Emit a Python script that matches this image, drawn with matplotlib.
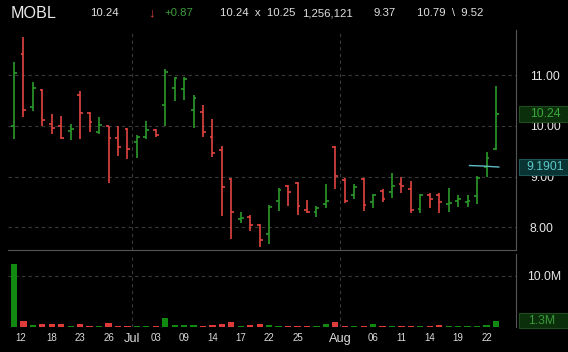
import matplotlib
matplotlib.use("Agg")
import matplotlib.pyplot as plt
import matplotlib.transforms as mtransforms
from matplotlib.patches import Rectangle
import numpy as np

plt.rcParams['font.family'] = ['Liberation Sans', 'DejaVu Sans']

# daily OHLC, one bar per trading day
opens = [10.00, 11.41, 10.37, 10.71, 10.04, 9.99, 9.90, 10.62, 10.25, 9.89,
         9.99, 9.77, 9.94, 9.69, 9.79, 9.92, 10.41, 10.74, 10.72, 10.32,
         10.28, 9.78, 9.53, 8.95, 8.17, 8.21, 8.05, 7.87, 8.53, 8.82,
         8.87, 8.34, 8.31, 8.47, 9.58, 8.93, 8.64, 8.95, 8.51, 8.72,
         8.70, 8.86, 8.76, 8.36, 8.63, 8.64, 8.46, 8.52, 8.51, 8.62,
         9.20, 9.54]
highs = [11.26, 11.76, 10.87, 10.73, 10.24, 10.20, 10.03, 10.69, 10.28, 10.18,
         10.00, 9.99, 9.97, 9.82, 10.10, 9.95, 11.12, 10.97, 10.96, 10.61,
         10.41, 10.14, 9.61, 8.98, 8.30, 8.24, 8.07, 8.44, 8.78, 8.84,
         8.89, 8.54, 8.43, 8.86, 9.61, 8.97, 8.86, 8.98, 8.66, 8.75,
         9.08, 9.00, 8.92, 8.65, 8.67, 8.67, 8.77, 8.64, 8.64, 9.02,
         9.48, 10.79]
lows = [9.75, 10.18, 10.30, 9.99, 9.84, 9.74, 9.72, 9.74, 9.89, 9.84,
        8.88, 9.41, 9.35, 9.37, 9.74, 9.78, 9.99, 10.50, 10.51, 9.97,
        9.78, 9.39, 8.23, 7.78, 8.09, 7.93, 7.62, 7.67, 8.33, 8.43,
        8.24, 8.28, 8.20, 8.38, 8.75, 8.48, 8.55, 8.33, 8.39, 8.51,
        8.57, 8.68, 8.29, 8.29, 8.39, 8.29, 8.31, 8.40, 8.40, 8.46,
        8.99, 9.52]
closes = [11.04, 10.32, 10.74, 10.12, 9.96, 9.76, 9.95, 10.26, 10.07, 10.01,
          9.76, 9.58, 9.55, 9.79, 9.92, 9.82, 11.07, 10.94, 10.92, 10.56,
          9.89, 9.46, 8.79, 8.31, 8.19, 8.05, 7.75, 8.41, 8.74, 8.70,
          8.43, 8.31, 8.39, 8.52, 9.02, 8.53, 8.80, 8.44, 8.64, 8.55,
          8.82, 8.82, 8.34, 8.63, 8.55, 8.51, 8.48, 8.55, 8.53, 8.98,
          9.37, 10.24]
# volume in millions
volumes = [12.4, 1.1, 0.33, 0.5, 0.5, 0.5, 0.2, 0.5, 0.2, 0.2,
           0.7, 0.2, 0.2, 0.15, 0.15, 0.1, 1.76, 0.33, 0.33, 0.33,
           0.15, 0.33, 0.5, 0.9, 0.2, 0.4, 0.5, 0.4, 0.2, 0.15,
           0.15, 0.15, 0.15, 0.5, 1.0, 0.15, 0.15, 0.15, 0.65, 0.15,
           0.15, 0.15, 0.15, 0.15, 0.15, 0.4, 0.15, 0.2, 0.2, 0.2,
           0.45, 1.26]

# short indicator segment at the right end
ind_x = [48.2, 49.6, 51.3]
ind_y = [9.22, 9.21, 9.19]
ind_last = 9.1901

date_pos = [0.75, 4, 7, 10, 12.5, 15, 18, 21, 24, 27, 30, 34.5, 38, 41, 44, 47, 50]
date_lab = ['12', '18', '23', '26', 'Jul', '03', '09', '14', '17', '22', '25',
            'Aug', '06', '11', '14', '19', '22']
month_pos = [12.5, 34.5]

price_ticks = [8, 9, 10, 11]
vol_ticks = [10]

header = [("MOBL", 11, 11.6, '#ececec'),
          ("10.24", 90, 8.2, '#e0e0e0'),
          ("\u2193", 148, 9.5, '#e04040'),
          ("+0.87", 164, 8.2, '#3c9c3c'),
          ("10.24  x  10.25", 220, 8.2, '#e0e0e0'),
          ("1,256,121", 302, 8.2, '#e0e0e0'),
          ("9.37", 373, 8.2, '#e0e0e0'),
          ("10.79  \\  9.52", 417, 8.2, '#e0e0e0')]

GREEN = '#2b9a2b'
RED = '#e2443f'
VGREEN = '#128a12'
VRED = '#de3b3b'
GRID = '#3a3a3a'
SPINE = '#555555'

W, H = 568, 352
fig = plt.figure(figsize=(W / 100, H / 100), dpi=100, facecolor='black')
ax = fig.add_axes([8 / W, 1 - 250 / H, 508 / W, 220 / H], facecolor='black')
axv = fig.add_axes([8 / W, 1 - 327 / H, 508 / W, 73 / H], facecolor='black', sharex=ax)

x = np.arange(len(opens))
o = np.array(opens)
c = np.array(closes)
up = c >= o
colors = np.where(up, GREEN, RED)

# OHLC bars
ax.vlines(x, lows, highs, colors=colors, linewidth=1.2, zorder=3)
ax.hlines(o, x - 0.3, x, colors=colors, linewidth=1.2, zorder=3)
ax.hlines(c, x, x + 0.3, colors=colors, linewidth=1.2, zorder=3)
ax.plot(ind_x, ind_y, color='#5fbcc4', linewidth=1.0, zorder=4)

ax.set_xlim(-0.635, 53.12)
ax.set_ylim(7.554, 11.893)
ax.set_yticks(price_ticks)
ax.set_yticklabels(['%.2f' % t for t in price_ticks])
ax.yaxis.tick_right()
ax.tick_params(axis='y', length=0, pad=10, labelcolor='#e6e6e6', labelsize=8.8)
ax.tick_params(axis='x', length=0, labelbottom=False)
ax.grid(axis='y', color=GRID, linestyle=(0, (3, 3)), linewidth=0.8)
for m in month_pos:
    ax.axvline(m, color=GRID, linestyle=(0, (3, 3)), linewidth=0.8)
for s in ['top', 'left']:
    ax.spines[s].set_visible(False)
for s in ['bottom', 'right']:
    ax.spines[s].set_color(SPINE)

# last price / indicator boxes on the right axis
tr = mtransforms.blended_transform_factory(ax.transAxes, ax.transData)
box_h = 16 / 50.7
for val, txt, tx, fc, ec, tc in [(closes[-1], '%.2f' % closes[-1], 1.0276, '#0b2f0b', '#1d4d1d', '#3aa83a'),
                                 (ind_last, '%.4f' % ind_last, 1.0197, '#0a3434', '#1c5656', '#5cc8c8')]:
    ax.add_patch(Rectangle((1.006, val - box_h / 2), 0.2, box_h, transform=tr,
                           facecolor=fc, edgecolor=ec, linewidth=0.8, clip_on=False, zorder=5))
    ax.text(tx, val, txt, transform=tr, color=tc, fontsize=8.8,
            va='center', ha='left', clip_on=False, zorder=6)

# volume panel
vcolors = np.where(up, VGREEN, VRED)
axv.bar(x, volumes, width=0.66, color=vcolors, zorder=3)
axv.set_ylim(0, 14.3)
axv.set_yticks(vol_ticks)
axv.set_yticklabels(['%.1fM' % t for t in vol_ticks])
axv.yaxis.tick_right()
axv.tick_params(axis='y', length=0, pad=8, labelcolor='#e6e6e6', labelsize=8.8)
axv.set_xticks(date_pos)
axv.set_xticklabels(date_lab)
axv.tick_params(axis='x', length=0, pad=4, labelcolor='#dcdcdc', labelsize=7)
for lab in axv.get_xticklabels():
    if lab.get_text() in ('Jul', 'Aug'):
        lab.set_fontsize(9.2)
axv.grid(axis='y', color=GRID, linestyle=(0, (3, 3)), linewidth=0.8)
for m in month_pos:
    axv.axvline(m, color=GRID, linestyle=(0, (3, 3)), linewidth=0.8)
for s in ['top', 'left', 'bottom']:
    axv.spines[s].set_visible(False)
axv.spines['right'].set_color(SPINE)

trv = mtransforms.blended_transform_factory(axv.transAxes, axv.transData)
vbox_h = 14.7 / 5.1
axv.add_patch(Rectangle((1.006, volumes[-1] - vbox_h / 2), 0.2, vbox_h, transform=trv,
                        facecolor='#0b2f0b', edgecolor='#1d4d1d', linewidth=0.8,
                        clip_on=False, zorder=5))
axv.text(1.0236, volumes[-1], '%.1fM' % volumes[-1], transform=trv, color='#3a9a3a',
         fontsize=8.8, va='center', ha='left', clip_on=False, zorder=6)

# header line
for txt, px, size, col in header:
    fig.text(px / W, 1 - 13 / H, txt, color=col, fontsize=size, va='center', ha='left',
             family=['Liberation Sans', 'DejaVu Sans'])

fig.savefig('out.png', dpi=100, facecolor='black')
